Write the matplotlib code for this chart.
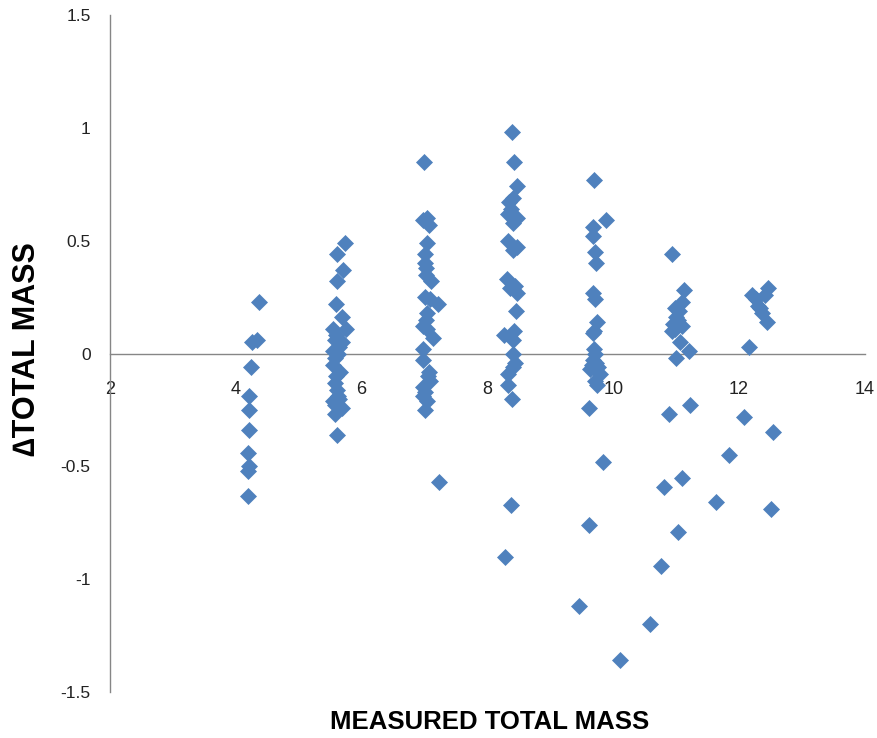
import matplotlib
matplotlib.use("Agg")
import matplotlib.pyplot as plt

# Measured total mass (x) vs delta total mass (y)
x_c4 = [4.37, 4.26, 4.34, 4.24, 4.21, 4.21, 4.21, 4.19, 4.21, 4.19, 4.19]
y_c4 = [0.23, 0.05, 0.06, -0.06, -0.19, -0.25, -0.34, -0.44, -0.50, -0.52, -0.63]

x_c6 = [5.74, 5.61, 5.70, 5.61, 5.59, 5.69, 5.75, 5.55, 5.58, 5.69, 5.55, 5.62, 5.55,
        5.66, 5.58, 5.61, 5.55, 5.69, 5.58, 5.61, 5.60, 5.64, 5.57, 5.60, 5.63, 5.57, 5.64]
y_c6 = [0.49, 0.44, 0.37, 0.32, 0.22, 0.16, 0.11, 0.11, 0.06, 0.05, 0.01, 0.00, -0.05,
        -0.08, -0.13, -0.16, -0.21, -0.24, -0.27, -0.36, 0.08, 0.03, -0.02, -0.10, -0.19, -0.23, -0.20]

x_c7 = [6.99, 6.98, 7.07, 7.04, 7.01, 7.01, 7.02, 7.02, 7.10, 7.01, 7.09, 7.21, 7.04, 6.98,
        7.04, 7.14, 6.98, 6.98, 7.07, 7.09, 6.98, 6.98, 7.04, 7.01, 7.23, 7.04, 7.02, 7.06, 7.00]
y_c7 = [0.85, 0.59, 0.57, 0.49, 0.44, 0.40, 0.38, 0.35, 0.32, 0.25, 0.24, 0.22, 0.18, 0.12,
        0.11, 0.07, 0.02, -0.03, -0.08, -0.12, -0.15, -0.19, -0.21, -0.25, -0.57, 0.60, 0.15, -0.10, -0.17]

x_c8 = [8.39, 8.42, 8.47, 8.41, 8.34, 8.33, 8.47, 8.41, 8.33, 8.47, 8.41, 8.31, 8.36, 8.47,
        8.45, 8.26, 8.42, 8.41, 8.41, 8.41, 8.33, 8.33, 8.39, 8.38, 8.28, 8.44, 8.37, 8.44]
y_c8 = [0.98, 0.85, 0.74, 0.69, 0.67, 0.62, 0.60, 0.58, 0.50, 0.47, 0.46, 0.33, 0.29, 0.27,
        0.19, 0.08, 0.10, 0.06, 0.00, -0.06, -0.09, -0.14, -0.20, -0.67, -0.90, -0.04, 0.64, 0.30]

x_c10 = [9.69, 9.89, 9.68, 9.68, 9.71, 9.73, 9.68, 9.71, 9.74, 9.68, 9.71, 9.68, 9.76, 9.63,
         9.79, 9.71, 9.74, 9.62, 9.84, 9.62, 9.46, 10.11, 9.70, 9.66, 9.73, 9.69]
y_c10 = [0.77, 0.59, 0.56, 0.52, 0.45, 0.40, 0.27, 0.24, 0.14, 0.09, 0.00, -0.03, -0.06, -0.07,
         -0.09, -0.12, -0.14, -0.24, -0.48, -0.76, -1.12, -1.36, 0.02, -0.05, -0.04, 0.10]

x_c11 = [10.93, 11.13, 11.09, 10.98, 11.03, 10.95, 11.09, 10.93, 11.06, 11.21, 11.00, 10.89,
         11.22, 10.81, 11.10, 11.03, 10.76, 10.59, 11.00, 10.98, 11.05]
y_c11 = [0.44, 0.28, 0.23, 0.20, 0.15, 0.13, 0.12, 0.10, 0.05, 0.01, -0.02, -0.27,
         -0.23, -0.59, -0.55, -0.79, -0.94, -1.20, 0.16, 0.11, 0.19]

x_c12 = [12.21, 12.46, 12.41, 12.30, 12.37, 12.45, 12.16, 11.63, 11.84, 12.08, 12.54, 12.51, 12.27, 12.34]
y_c12 = [0.26, 0.29, 0.26, 0.21, 0.18, 0.14, 0.03, -0.66, -0.45, -0.28, -0.35, -0.69, 0.24, 0.20]

x_ticks = [2, 4, 6, 8, 10, 12, 14]
y_ticks = [-1.5, -1, -0.5, 0, 0.5, 1, 1.5]
y_tick_labels = ["-1.5", "-1", "-0.5", "0", "0.5", "1", "1.5"]

xs = x_c4 + x_c6 + x_c7 + x_c8 + x_c10 + x_c11 + x_c12
ys = y_c4 + y_c6 + y_c7 + y_c8 + y_c10 + y_c11 + y_c12

fig = plt.figure(figsize=(8.78, 7.38), dpi=100)
ax = fig.add_axes([0.1253, 0.0623, 0.8597, 0.9174])

ax.plot(xs, ys, linestyle="none", marker="D", markersize=8,
        color="#4F81BD", markeredgecolor="#4F81BD", markeredgewidth=0.5, zorder=3)

ax.set_xlim(2, 14)
ax.set_ylim(-1.5, 1.5)

# Excel-style axes: y axis at x=2, x axis crossing at y=0
ax.spines["right"].set_visible(False)
ax.spines["top"].set_visible(False)
ax.spines["bottom"].set_position(("data", 0))
for s in ("left", "bottom"):
    ax.spines[s].set_color("#868686")
    ax.spines[s].set_linewidth(1.0)

font = ["Liberation Sans", "DejaVu Sans"]
ax.set_xticks(x_ticks)
ax.set_xticklabels([str(v) for v in x_ticks], fontsize=13, family=font, color="#222222")
ax.set_yticks(y_ticks)
ax.set_yticklabels(y_tick_labels, fontsize=12.5, family=font, color="#222222")
ax.tick_params(axis="x", length=0, pad=20)
ax.tick_params(axis="y", length=0, pad=14)

fig.text(0.558, 0.022, "MEASURED TOTAL MASS", ha="center", va="center",
         fontsize=18.5, fontweight="bold", family=font)
fig.text(0.031, 0.527, "\u2206TOTAL MASS", ha="center", va="center", rotation=90,
         fontsize=22, fontweight="bold", family=font)

fig.savefig("out.png", dpi=100)
